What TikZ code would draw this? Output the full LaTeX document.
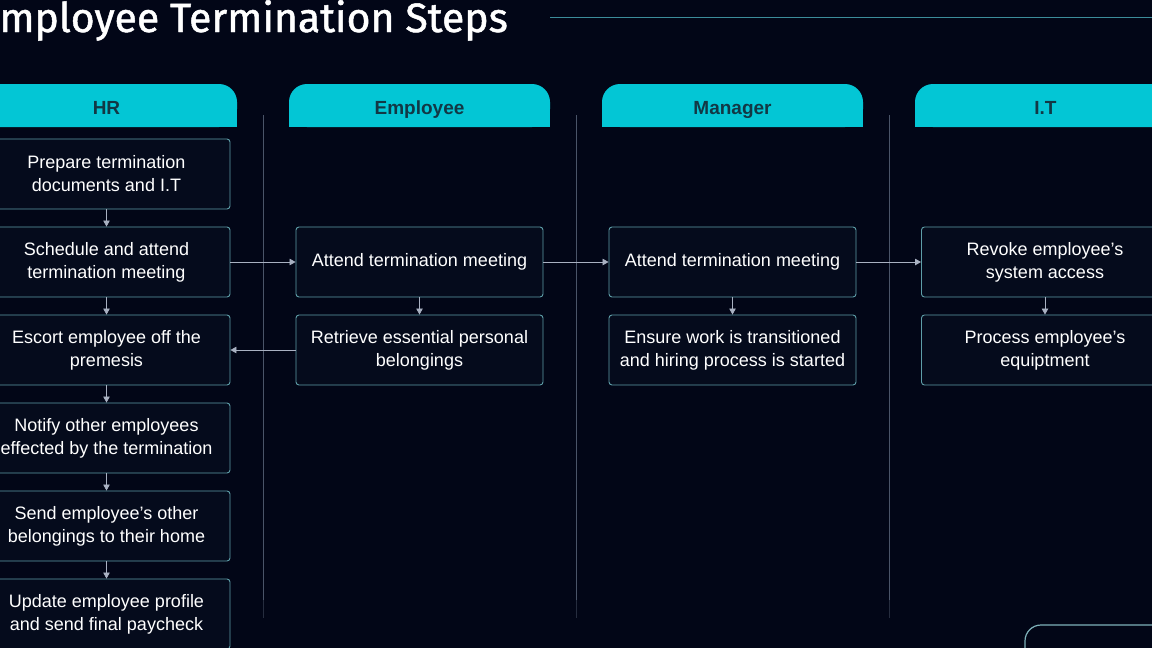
\documentclass[tikz,border=0pt]{standalone}
\usepackage{fontspec}
\setmainfont{Liberation Sans}
\newfontfamily\titlefont[FakeBold=1.2]{Fira Sans}
\usetikzlibrary{arrows.meta}
\definecolor{bgc}{HTML}{020617}
\definecolor{boxfill}{HTML}{050B1C}
\definecolor{boxline}{HTML}{5E9EA8}
\definecolor{hdrc}{HTML}{03C6D5}
\definecolor{hdrtxt}{HTML}{123845}
\definecolor{lanec}{HTML}{4A5468}
\definecolor{arrc}{HTML}{A9B1C2}
\definecolor{titleline}{HTML}{3C8C9A}
\tikzset{
  stepbox/.style={draw=boxline, fill=boxfill, line width=0.9pt, rounded corners=3pt,
    minimum width=247pt, minimum height=70pt, align=center, text=white, inner sep=0pt,
    font=\fontsize{18}{23}\selectfont},
  hdrtab/.style={fill=hdrc},
  hdrlabel/.style={text=hdrtxt, anchor=base, inner sep=0pt, font=\bfseries\fontsize{19}{22}\selectfont},
  flow/.style={draw=arrc, line width=0.8pt, -{Triangle[length=6pt,width=6.5pt]}},
  lane/.style={draw=lanec, line width=0.8pt}
}
\begin{document}
\begin{tikzpicture}[x=1pt,y=-1pt]
\useasboundingbox (0,0) rectangle (1152,648);
\clip (0,0) rectangle (1152,648);
\fill[bgc] (0,0) rectangle (1152,648);
% title
\node[anchor=base east, inner sep=0pt, text=white, font=\titlefont\fontsize{41}{46}\selectfont] (title) at (508,32) {Employee Termination Steps};
\coordinate (tla) at (550,17);
\coordinate (tlb) at (1152,17);
\draw[titleline, line width=0.9pt] (tla) -- (tlb);
% lanes
\foreach \x/\n in {263/l1,576/l2,889/l3}{
  \coordinate (\n a) at (\x,115);
  \coordinate (\n b) at (\x,600);
  \coordinate (\n c) at (\x,618);
  \draw[lane] (\n a) -- (\n b);
  \draw[lanec!50!bgc, line width=0.8pt] (\n b) -- (\n c);
}
% headers
\foreach \cx/\nm/\lab in {106.5/hHR/HR, 419.5/hEmp/Employee, 732.5/hMgr/Manager, 1045.5/hIT/I.T}{
  \fill[hdrtab, rounded corners=18pt] (\cx-130.5,84) rectangle (\cx+130.5,127);
  \fill[hdrtab] (\cx-130.5,106) rectangle (\cx+130.5,127);
  \node[hdrlabel] (\nm) at (\cx,114) {\lab};
}
% HR column
\node[stepbox] (hr1) at (106.5,174) {Prepare termination\\documents and I.T};
\node[stepbox] (hr2) at (106.5,262) {Schedule and attend\\termination meeting};
\node[stepbox] (hr3) at (106.5,350) {Escort employee off the\\premesis};
\node[stepbox] (hr4) at (106.5,438) {Notify other employees\\effected by the termination};
\node[stepbox] (hr5) at (106.5,526) {Send employee’s other\\belongings to their home};
\node[stepbox] (hr6) at (106.5,614) {Update employee profile\\and send final paycheck};
% Employee column
\node[stepbox] (em1) at (419.5,262) {Attend termination meeting};
\node[stepbox] (em2) at (419.5,350) {Retrieve essential personal\\belongings};
% Manager column
\node[stepbox] (mg1) at (732.5,262) {Attend termination meeting};
\node[stepbox] (mg2) at (732.5,350) {Ensure work is transitioned\\and hiring process is started};
% IT column
\node[stepbox] (it1) at (1045,262) {Revoke employee’s\\system access};
\node[stepbox] (it2) at (1045,350) {Process employee’s\\equiptment};
% arrows
\draw[flow] (hr1) -- (hr2);
\draw[flow] (hr2) -- (hr3);
\draw[flow] (hr3) -- (hr4);
\draw[flow] (hr4) -- (hr5);
\draw[flow] (hr5) -- (hr6);
\draw[flow] (em1) -- (em2);
\draw[flow] (mg1) -- (mg2);
\draw[flow] (it1) -- (it2);
\draw[flow] (hr2) -- (em1);
\draw[flow] (em1) -- (mg1);
\draw[flow] (mg1) -- (it1);
\draw[flow] (em2) -- (hr3);
% bottom-right decoration
\coordinate (da) at (1025,660);
\coordinate (db) at (1025,625);
\coordinate (dc) at (1170,625);
\draw[boxline!80!white, line width=1.2pt, rounded corners=16pt] (da) -- (db) -- (dc);
\end{tikzpicture}
\end{document}
